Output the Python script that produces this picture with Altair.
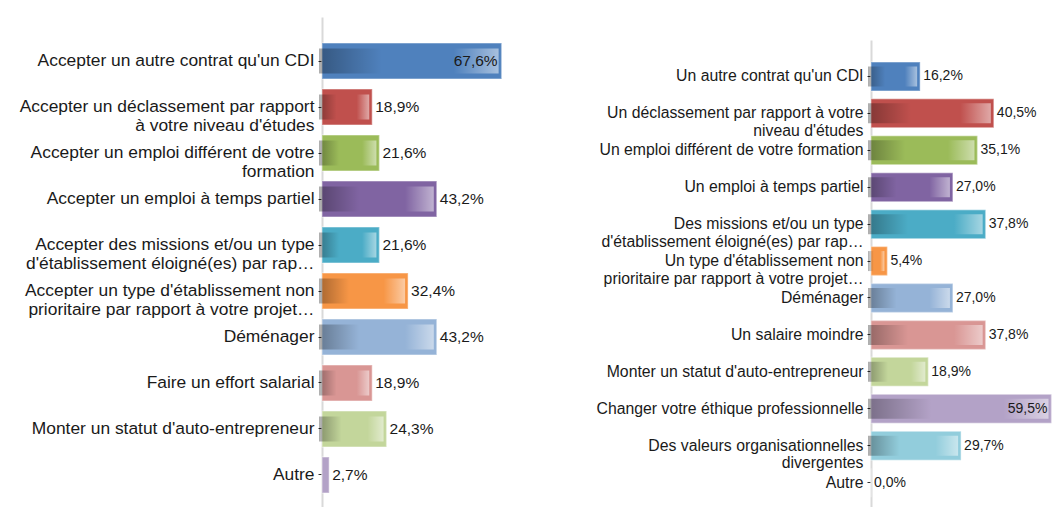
import altair as alt
import pandas as pd

# ---- data ----
left_categories = [
    "Accepter un autre contrat qu'un CDI",
    "Accepter un déclassement par rapport|à votre niveau d'études",
    "Accepter un emploi différent de votre|formation",
    "Accepter un emploi à temps partiel",
    "Accepter des missions et/ou un type|d'établissement éloigné(es) par rap…",
    "Accepter un type d'établissement non|prioritaire par rapport à votre projet…",
    "Déménager",
    "Faire un effort salarial",
    "Monter un statut d'auto-entrepreneur",
    "Autre",
]
left_values = [67.6, 18.9, 21.6, 43.2, 21.6, 32.4, 43.2, 18.9, 24.3, 2.7]

right_categories = [
    "Un autre contrat qu'un CDI",
    "Un déclassement par rapport à votre|niveau d'études",
    "Un emploi différent de votre formation",
    "Un emploi à temps partiel",
    "Des missions et/ou un type|d'établissement éloigné(es) par rap…",
    "Un type d'établissement non|prioritaire par rapport à votre projet…",
    "Déménager",
    "Un salaire moindre",
    "Monter un statut d'auto-entrepreneur",
    "Changer votre éthique professionnelle",
    "Des valeurs organisationnelles|divergentes",
    "Autre",
]
right_values = [16.2, 40.5, 35.1, 27.0, 37.8, 5.4, 27.0, 37.8, 18.9, 59.5, 29.7, 0.0]

palette = ["#4F81BD", "#C0504D", "#9BBB59", "#8064A2", "#4BACC6", "#F79646",
           "#95B3D7", "#D99694", "#C3D69B", "#B3A2C7", "#92CDDC", "#FAC090"]

FONT = "Liberation Sans"

overlay = alt.LinearGradient(
    gradient="linear", x1=0, x2=1, y1=0, y2=0,
    stops=[
        alt.GradientStop(offset=0, color="rgba(0,0,0,0.32)"),
        alt.GradientStop(offset=0.35, color="rgba(0,0,0,0)"),
        alt.GradientStop(offset=0.75, color="rgba(255,255,255,0)"),
        alt.GradientStop(offset=1, color="rgba(255,255,255,0.5)"),
    ],
)


def fmt(v):
    return f"{v:.1f}".replace(".", ",") + "%"


def panel(cats, vals, width, height, xmax, extent, label_size, line_h, value_size,
          inner_h, pin, pout, align):
    df = pd.DataFrame({"cat": cats, "v": vals, "lab": [fmt(v) for v in vals]})
    y = alt.Y(
        "cat:N", sort=cats, title=None,
        scale=alt.Scale(paddingInner=pin, paddingOuter=pout, align=align, round=False),
        axis=alt.Axis(
            labelExpr="split(datum.label, '|')", labelFont=FONT,
            labelFontSize=label_size, labelLineHeight=line_h,
            labelColor="#1a1a1a", labelPadding=4, labelLimit=0,
            domainColor="#D9D9D9", domainWidth=2, tickColor="#333333",
            tickSize=4, tickWidth=1, minExtent=extent, maxExtent=extent,
            grid=False,
        ),
    )
    x = alt.X("v:Q", scale=alt.Scale(domain=[0, xmax], nice=False), axis=None)
    color = alt.Color("cat:N", sort=cats,
                      scale=alt.Scale(domain=cats, range=palette[:len(cats)]),
                      legend=None)
    base = alt.Chart(df).encode(y=y)
    outer = base.mark_bar(stroke="white", strokeOpacity=0.35, strokeWidth=1.5).encode(
        x=x, color=color)
    inner = base.transform_filter("datum.v > 3").mark_bar(
        height=inner_h, xOffset=-3, x2Offset=5, color=overlay).encode(x=x)
    out_txt = base.transform_filter("datum.v <= 50").mark_text(
        align="left", dx=3, font=FONT, fontSize=value_size, color="#1a1a1a").encode(
        x=x, text="lab:N")
    in_txt = base.transform_filter("datum.v > 50").mark_text(
        align="right", dx=-4, font=FONT, fontSize=value_size, color="#1a1a1a").encode(
        x=x, text="lab:N")
    return alt.layer(outer, inner, out_txt, in_txt).properties(width=width, height=height)


left = panel(left_categories, left_values, 186, 490, 70, 314, 17.4, 18.5, 15.5, 25,
             0.2174, 0.4348, 0.65)
right = panel(right_categories, right_values, 182, 467, 60, 290, 15.8, 17.5, 14, 20,
              0.2147, 0.43, 0.69)

# invisible spacer that lowers the right panel
spacer = alt.Chart(pd.DataFrame({"s": [0]})).mark_point(opacity=0).properties(
    width=1, height=13)

right_col = alt.vconcat(spacer, right, spacing=10)

chart = alt.hconcat(left, right_col, spacing=73).resolve_scale(
    color="independent", y="independent", x="independent"
).properties(
    padding={"left": 0, "top": 9, "right": 0, "bottom": 0}
).configure_view(stroke=None)

chart.save("out.html", embed_options={"renderer": "svg", "actions": False})
